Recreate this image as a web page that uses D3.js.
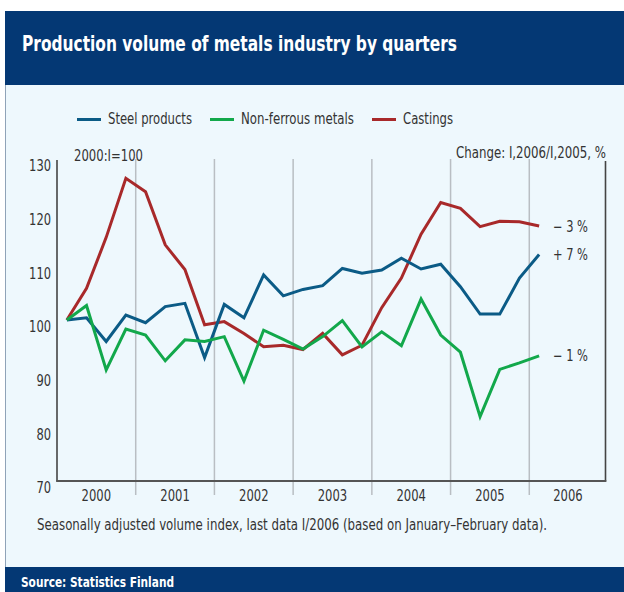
<!DOCTYPE html>
<html>
<head>
<meta charset="utf-8">
<script src="https://cdn.jsdelivr.net/npm/d3@7"></script>
<style>
  html, body { margin: 0; padding: 0; background: #ffffff; }
  svg { display: block; }
  text { font-family: "DejaVu Sans Condensed", "DejaVu Sans", sans-serif; }
</style>
</head>
<body>
<div id="chart"></div>
<script>
// ---------- data ----------
const years = ["2000", "2001", "2002", "2003", "2004", "2005", "2006"];
const steelProducts = [100, 100.4, 96.0, 100.9, 99.5, 102.5, 103.1, 93.0, 102.9, 100.4, 108.4, 104.5, 105.7, 106.4, 109.6, 108.7, 109.3, 111.5, 109.5, 110.4, 106.2, 101.1, 101.1, 107.8, 112.2];
const nonFerrousMetals = [100, 102.7, 90.7, 98.3, 97.2, 92.4, 96.3, 96.0, 96.9, 88.6, 98.1, 96.4, 94.6, 96.9, 99.9, 95.0, 97.8, 95.2, 103.9, 97.2, 94.0, 82.0, 90.8, 92.0, 93.3];
const castings = [100, 105.9, 115.4, 126.4, 123.9, 114.0, 109.4, 99.1, 99.7, 97.5, 95.0, 95.3, 94.5, 97.5, 93.5, 95.3, 102.3, 107.8, 116.0, 121.9, 120.8, 117.4, 118.4, 118.3, 117.5];
const seriesNames = ["Steel products", "Non-ferrous metals", "Castings"];
const seriesColors = ["#0b5b86", "#12a84b", "#a8292a"];
const changeLabels = ["+ 7 %", "\u2212 1 %", "\u2212 3 %"];
const yTicks = [70, 80, 90, 100, 110, 120, 130];

const W = 624, H = 592;
const svg = d3.select("#chart").append("svg").attr("width", W).attr("height", H);

// helper: compress text horizontally to a given width (condensed look)
function squeeze(sel, target) {
  sel.each(function (d, i) {
    const t = typeof target === "function" ? target.call(this, d, i) : target;
    d3.select(this).attr("textLength", t).attr("lengthAdjust", "spacingAndGlyphs");
  });
  return sel;
}

// ---------- frame ----------
svg.append("rect").attr("x", 5).attr("y", 85).attr("width", W - 5).attr("height", 482).attr("fill", "#eef8fd");
svg.append("line").attr("x1", 5.5).attr("x2", 5.5).attr("y1", 85).attr("y2", 567).attr("stroke", "#8fa3b8").attr("stroke-width", 1);
svg.append("rect").attr("x", 5).attr("y", 11).attr("width", W - 5).attr("height", 74).attr("fill", "#043874");
svg.append("rect").attr("x", 5).attr("y", 567).attr("width", W - 5).attr("height", 25).attr("fill", "#043874");

squeeze(svg.append("text").attr("x", 22).attr("y", 51).attr("fill", "#ffffff")
  .attr("font-size", 20.5).attr("font-weight", "bold")
  .text("Production volume of metals industry by quarters"), 435);

squeeze(svg.append("text").attr("x", 21).attr("y", 587).attr("fill", "#ffffff")
  .attr("font-size", 14).attr("font-weight", "bold").text("Source: Statistics Finland"), 153);

// ---------- scales ----------
const x = d3.scaleLinear().domain([0, 28]).range([57, 608]);
const y = d3.scaleLinear().domain([70, 130]).range([481, 159]);
const xRight = 605.5;

// ---------- year gridlines ----------
svg.append("g").selectAll("line").data(d3.range(1, 7)).join("line")
  .attr("x1", d => x(d * 4)).attr("x2", d => x(d * 4))
  .attr("y1", 159).attr("y2", 495)
  .attr("stroke", "#b9bec3").attr("stroke-width", 1.5);

// ---------- axes ----------
const yAxis = svg.append("g").attr("transform", "translate(57,0)")
  .call(d3.axisLeft(y).tickValues(yTicks).tickSize(0).tickPadding(6).tickFormat(d3.format("d")));
yAxis.select(".domain").remove();
yAxis.selectAll("text").attr("font-size", 16.5).attr("fill", "#333").attr("dy", "0.32em")
  .attr("transform", "translate(0,6.5)")
  .style("font-family", "\"DejaVu Sans Condensed\", \"DejaVu Sans\", sans-serif");
squeeze(yAxis.selectAll("text"), function () { return this.textContent.length * 7.3; });

svg.append("line").attr("x1", 57).attr("x2", 57).attr("y1", 160).attr("y2", 481.5)
  .attr("stroke", "#444").attr("stroke-width", 1.6);
svg.append("line").attr("x1", xRight).attr("x2", xRight).attr("y1", 161).attr("y2", 481.5)
  .attr("stroke", "#444").attr("stroke-width", 1.6);
svg.append("line").attr("x1", 56.2).attr("x2", xRight + 0.8).attr("y1", 481).attr("y2", 481)
  .attr("stroke", "#555").attr("stroke-width", 1.8);

squeeze(svg.append("g").selectAll("text").data(years).join("text")
  .attr("x", (d, i) => i < 6 ? x(i * 4 + 2) : (x(24) + xRight) / 2 + 0.5)
  .attr("y", 500.5).attr("text-anchor", "middle").attr("font-size", 16.5).attr("fill", "#333")
  .text(d => d), 29.5);

// ---------- header notes ----------
squeeze(svg.append("text").attr("x", 74).attr("y", 160.5).attr("font-size", 15).attr("fill", "#333").text("2000:I=100"), 69);
squeeze(svg.append("text").attr("x", 456).attr("y", 157.5).attr("font-size", 15.5).attr("fill", "#333").text("Change: I,2006/I,2005, %"), 150);

// ---------- lines ----------
const seriesData = [steelProducts, nonFerrousMetals, castings];
const line = d3.line().x((d, i) => x(i + 0.5)).y(d => y(d)).curve(d3.curveLinear);
const drawOrder = [2, 0, 1];
drawOrder.forEach(k => {
  svg.append("path").datum(seriesData[k]).attr("d", line)
    .attr("fill", "none").attr("stroke", seriesColors[k]).attr("stroke-width", 3)
    .attr("stroke-linejoin", "miter").attr("stroke-linecap", "butt");
});

// ---------- end labels ----------
squeeze(svg.append("g").selectAll("text").data(changeLabels).join("text")
  .attr("x", 553).attr("y", (d, i) => y(seriesData[i][seriesData[i].length - 1]) + 5.5)
  .attr("font-size", 15.5).attr("fill", "#333").text(d => d), 35);

// ---------- legend ----------
const legX = [77, 210, 372];
const legW = [84, 113, 50];
const leg = svg.append("g");
seriesNames.forEach((name, i) => {
  leg.append("line").attr("x1", legX[i]).attr("x2", legX[i] + 24).attr("y1", 119.5).attr("y2", 119.5)
    .attr("stroke", seriesColors[i]).attr("stroke-width", 3);
  squeeze(leg.append("text").attr("x", legX[i] + 31).attr("y", 124).attr("font-size", 15.5).attr("fill", "#333").text(name), legW[i]);
});

// ---------- note ----------
squeeze(svg.append("text").attr("x", 37).attr("y", 529.5).attr("font-size", 15).attr("fill", "#333")
  .text("Seasonally adjusted volume index, last data I/2006 (based on January\u2013February data)."), 510);
</script>
</body>
</html>
